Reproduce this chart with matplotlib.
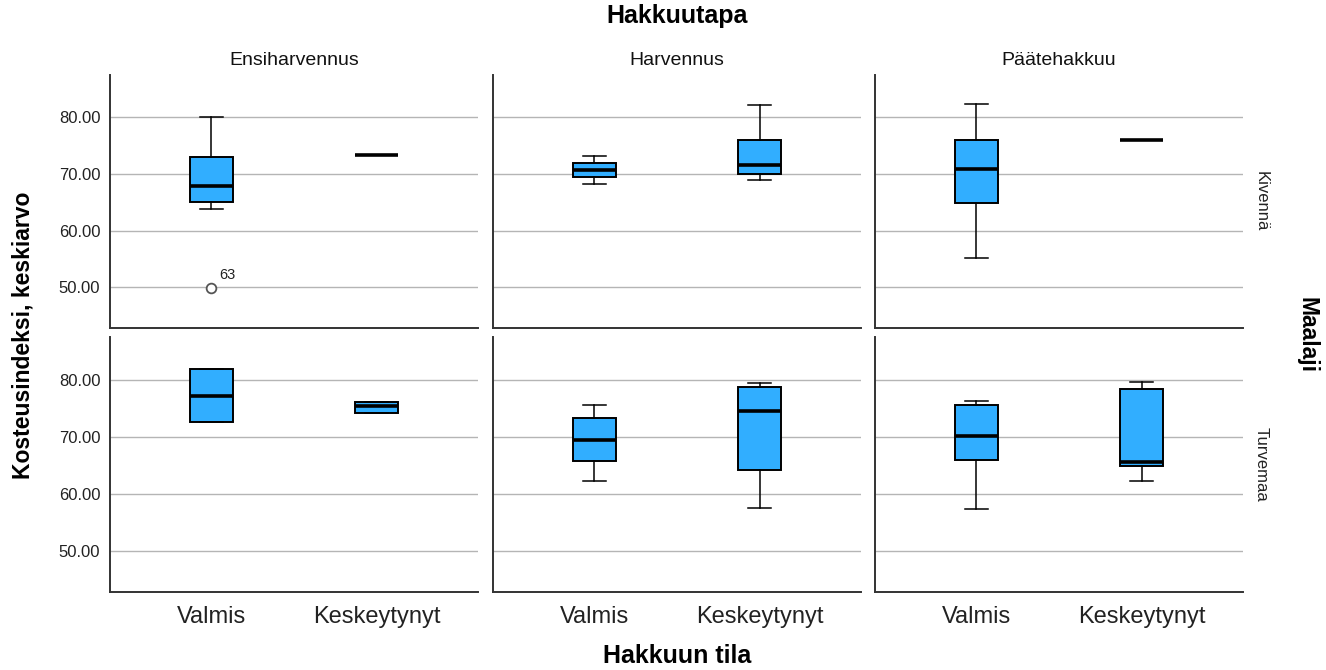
import matplotlib.pyplot as plt
from matplotlib.ticker import FormatStrFormatter

plt.rcParams['font.family'] = ['Liberation Sans', 'DejaVu Sans']

hakkuutavat = ['Ensiharvennus', 'Harvennus', 'Päätehakkuu']
maalajit = ['Kivennä', 'Turvemaa']
tilat = ['Valmis', 'Keskeytynyt']

# [maalaji][hakkuutapa][tila]
alaviiksi = [[[63.8, 73.3], [68.3, 69.0], [55.1, 76.0]],
             [[72.6, 74.1], [62.2, 57.5], [57.3, 62.2]]]
alakvartiili = [[[65.0, 73.3], [69.5, 70.0], [64.8, 76.0]],
                [[72.6, 74.1], [65.7, 64.2], [66.0, 64.9]]]
mediaani = [[[67.9, 73.3], [70.7, 71.6], [70.9, 76.0]],
            [[77.2, 75.3], [69.5, 74.5], [70.2, 65.6]]]
ylakvartiili = [[[72.9, 73.3], [71.9, 75.9], [75.9, 76.0]],
                [[81.9, 76.1], [73.3, 78.7], [75.5, 78.3]]]
ylaviiksi = [[[80.0, 73.3], [73.2, 82.1], [82.3, 76.0]],
             [[81.9, 76.1], [75.6, 79.4], [76.3, 79.5]]]

# poikkeavat havainnot: (maalaji, hakkuutapa, tila, arvo, tapausnumero)
poikkeamat = [(0, 0, 0, 49.9, '63')]

fig = plt.figure(figsize=(13.26, 6.70), dpi=100)

vasen = [110, 493, 875]
leveys = 368
ylareuna = [75, 337]
korkeus = [253, 255]
W, H = 1326, 670

for r, maalaji in enumerate(maalajit):
    for c, tapa in enumerate(hakkuutavat):
        ax = fig.add_axes([vasen[c] / W, 1 - (ylareuna[r] + korkeus[r]) / H,
                           leveys / W, korkeus[r] / H])
        stats = []
        for t, tila in enumerate(tilat):
            fl = [p[3] for p in poikkeamat if p[:3] == (r, c, t)]
            stats.append(dict(whislo=alaviiksi[r][c][t], q1=alakvartiili[r][c][t],
                              med=mediaani[r][c][t], q3=ylakvartiili[r][c][t],
                              whishi=ylaviiksi[r][c][t], fliers=fl, label=tila))
        ax.bxp(stats, positions=[1, 2], widths=0.26, capwidths=0.14,
               patch_artist=True,
               boxprops=dict(facecolor='#31AEFF', edgecolor='black', linewidth=1.4),
               medianprops=dict(color='black', linewidth=2.6),
               whiskerprops=dict(color='black', linewidth=1.1),
               capprops=dict(color='black', linewidth=1.1),
               flierprops=dict(marker='o', markerfacecolor='white',
                               markeredgecolor='#555555', markersize=7,
                               markeredgewidth=1.3))
        for p in poikkeamat:
            if p[:2] == (r, c):
                ax.annotate(p[4], (p[2] + 1, p[3]), xytext=(6, 6),
                            textcoords='offset points', fontsize=10.5, color='#222222')

        ax.set_xlim(0.39, 2.61)
        ax.set_ylim(42.8, 87.45)
        ax.set_yticks([50, 60, 70, 80])
        ax.yaxis.set_major_formatter(FormatStrFormatter('%.2f'))
        ax.grid(axis='y', color='#b5b5b5', linewidth=1)
        ax.set_axisbelow(True)
        for s in ['top', 'right']:
            ax.spines[s].set_visible(False)
        for s in ['left', 'bottom']:
            ax.spines[s].set_color('#333333')
            ax.spines[s].set_linewidth(1.4)
        ax.tick_params(axis='y', length=0, pad=7, labelsize=12, labelcolor='#222222',
                       labelleft=(c == 0))
        if r == 1:
            ax.tick_params(axis='x', length=0, pad=10, labelsize=17, labelcolor='#222222')
        else:
            ax.tick_params(axis='x', length=0, labelbottom=False)
        if r == 0:
            ax.set_title(tapa, fontsize=14, pad=7, color='#111111')
        if c == 2:
            ax.text(1.03, 0.5, maalaji, transform=ax.transAxes, rotation=-90,
                    ha='left', va='center', fontsize=12, color='#222222')

fig.text(677 / W, 1 - 16 / H, 'Hakkuutapa', ha='center', va='center',
         fontsize=18, fontweight='bold')
fig.text(677 / W, 1 - 656 / H, 'Hakkuun tila', ha='center', va='center',
         fontsize=18, fontweight='bold')
fig.text(23 / W, 0.5, 'Kosteusindeksi, keskiarvo', rotation=90, ha='center',
         va='center', fontsize=16.5, fontweight='bold')
fig.text(1307 / W, 0.5, 'Maalaji', rotation=-90, ha='center', va='center',
         fontsize=16.5, fontweight='bold')

fig.savefig('out.png', dpi=100)
